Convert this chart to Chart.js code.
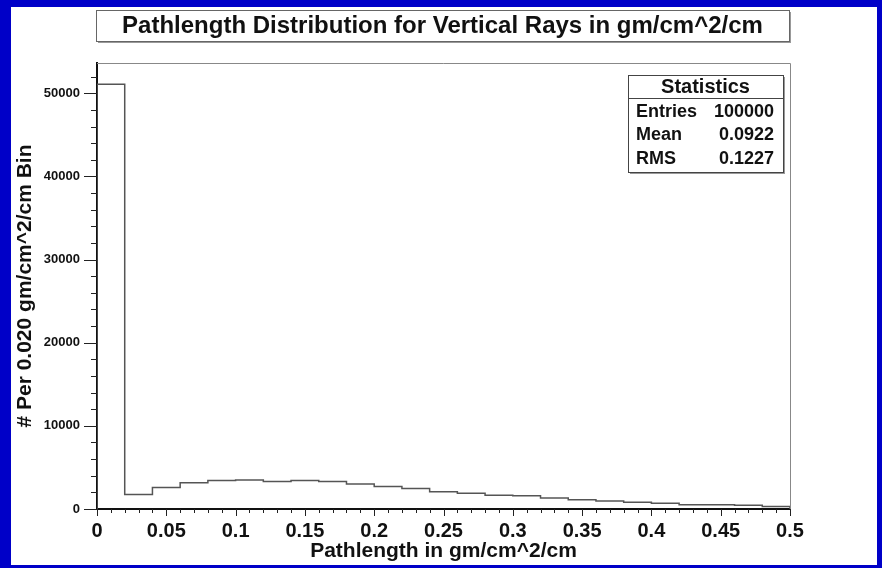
<!DOCTYPE html>
<html>
<head>
<meta charset="utf-8">
<script src="https://cdn.jsdelivr.net/npm/chart.js@4.4.1/dist/chart.umd.min.js"></script>
<style>
  html, body { margin: 0; padding: 0; background: #0000c8; width: 882px; height: 568px; overflow: hidden; }
  #panel { position: absolute; left: 11px; top: 7px; width: 866px; height: 558px; background: #fff; }
</style>
</head>
<body>
<div id="panel"><canvas id="histChart" width="866" height="558"></canvas></div>
<script>
// histogram bins (gm/cm^2/cm), 0.020 wide
const binEdges = [0, 0.02, 0.04, 0.06, 0.08, 0.10, 0.12, 0.14, 0.16, 0.18, 0.20, 0.22, 0.24,
                  0.26, 0.28, 0.30, 0.32, 0.34, 0.36, 0.38, 0.40, 0.42, 0.44, 0.46, 0.48, 0.50];
const counts = [51100, 1750, 2600, 3160, 3440, 3490, 3320, 3440, 3320, 3000, 2720, 2480, 2080,
                1880, 1660, 1600, 1320, 1120, 960, 820, 680, 520, 520, 440, 300];
const xTicks = [0, 0.05, 0.1, 0.15, 0.2, 0.25, 0.3, 0.35, 0.4, 0.45, 0.5];
const yTicks = [0, 10000, 20000, 30000, 40000, 50000];
const statLabels = ['Entries', 'Mean', 'RMS'];
const statValues = ['100000', '0.0922', '0.1227'];

const FONT = "'Liberation Sans', Arial, sans-serif";

// step points for the histogram outline
const points = [{ x: binEdges[0], y: 0 }];
counts.forEach((c, i) => points.push({ x: binEdges[i], y: c }));
points.push({ x: binEdges[binEdges.length - 1], y: counts[counts.length - 1] });
points.push({ x: binEdges[binEdges.length - 1], y: 0 });

// frame, tick marks, title box and stats box
const decor = {
    id: 'decor',
    afterDraw(chart) {
        const ctx = chart.ctx;
        const a = chart.chartArea;
        const xs = chart.scales.x, ys = chart.scales.y;
        ctx.save();

        // top / right frame lines
        ctx.strokeStyle = '#888';
        ctx.lineWidth = 1;
        ctx.beginPath();
        ctx.moveTo(a.left, a.top + 0.5);
        ctx.lineTo(a.right + 0.5, a.top + 0.5);
        ctx.lineTo(a.right + 0.5, a.bottom);
        ctx.stroke();

        // x ticks: minor every 0.01, major every 0.05
        ctx.strokeStyle = '#222';
        ctx.lineWidth = 1;
        for (let i = 0; i <= 50; i++) {
            const px = Math.round(xs.getPixelForValue(i / 100)) + 0.5;
            const len = i % 5 === 0 ? 7 : 4;
            ctx.beginPath();
            ctx.moveTo(px, a.bottom);
            ctx.lineTo(px, a.bottom + len);
            ctx.stroke();
        }
        // y ticks: minor every 2000, major every 10000
        for (let v = 0; v <= ys.max; v += 2000) {
            const py = Math.round(ys.getPixelForValue(v)) + 0.5;
            const len = v % 10000 === 0 ? 13 : 6;
            ctx.beginPath();
            ctx.moveTo(a.left - len, py);
            ctx.lineTo(a.left, py);
            ctx.stroke();
        }

        // title box
        const tb = { x: 85, y: 3, w: 693, h: 31 };
        ctx.fillStyle = '#999';
        ctx.fillRect(tb.x + 2, tb.y + 2, tb.w, tb.h);
        ctx.fillStyle = '#fff';
        ctx.fillRect(tb.x, tb.y, tb.w, tb.h);
        ctx.strokeStyle = '#666';
        ctx.strokeRect(tb.x + 0.5, tb.y + 0.5, tb.w, tb.h);
        ctx.fillStyle = '#111';
        ctx.font = 'bold 24px ' + FONT;
        ctx.textAlign = 'center';
        ctx.textBaseline = 'middle';
        ctx.fillText('Pathlength Distribution for Vertical Rays in gm/cm^2/cm', tb.x + tb.w / 2, tb.y + tb.h / 2 + 1);

        // statistics box
        const sb = { x: 617, y: 68, w: 155, h: 97 };
        ctx.fillStyle = '#999';
        ctx.fillRect(sb.x + 2, sb.y + 2, sb.w, sb.h);
        ctx.fillStyle = '#fff';
        ctx.fillRect(sb.x, sb.y, sb.w, sb.h);
        ctx.strokeStyle = '#444';
        ctx.strokeRect(sb.x + 0.5, sb.y + 0.5, sb.w, sb.h);
        ctx.beginPath();
        ctx.moveTo(sb.x, sb.y + 23.5);
        ctx.lineTo(sb.x + sb.w, sb.y + 23.5);
        ctx.stroke();
        ctx.fillStyle = '#111';
        ctx.font = 'bold 20px ' + FONT;
        ctx.textAlign = 'center';
        ctx.fillText('Statistics', sb.x + sb.w / 2, sb.y + 12);
        ctx.font = 'bold 18px ' + FONT;
        statLabels.forEach((lab, i) => {
            const ty = sb.y + 37 + i * 23.5;
            ctx.textAlign = 'left';
            ctx.fillText(lab, sb.x + 8, ty);
            ctx.textAlign = 'right';
            ctx.fillText(statValues[i], sb.x + sb.w - 9, ty);
        });
        ctx.restore();
    }
};

const ctx = document.getElementById('histChart').getContext('2d');
const histChart = new Chart(ctx, {
    type: 'line',
    data: {
        datasets: [{
            data: points,
            stepped: 'before',
            borderColor: '#555',
            borderWidth: 1.5,
            pointRadius: 0,
            fill: false
        }]
    },
    options: {
        responsive: false,
        animation: false,
        devicePixelRatio: 1,
        layout: { padding: { left: 0, top: 56, right: 87, bottom: 0 } },
        plugins: {
            legend: { display: false },
            tooltip: { enabled: false }
        },
        scales: {
            x: {
                type: 'linear',
                min: 0,
                max: 0.5,
                grid: { display: false, drawTicks: false },
                border: { display: true, color: '#111', width: 2 },
                afterBuildTicks: (scale) => { scale.ticks = xTicks.map(v => ({ value: v })); },
                afterFit: (scale) => { scale.height = 56; },
                ticks: {
                    padding: 10,
                    color: '#111',
                    font: { family: FONT, size: 20, weight: 'bold' },
                    maxRotation: 0,
                    callback: (v) => String(+v.toFixed(2))
                },
                title: {
                    display: true,
                    text: 'Pathlength in gm/cm^2/cm',
                    color: '#111',
                    font: { family: FONT, size: 21, weight: 'bold' },
                    padding: { top: 0, bottom: 1 }
                }
            },
            y: {
                min: 0,
                max: 53650,
                grid: { display: false, drawTicks: false },
                border: { display: true, color: '#111', width: 2 },
                afterBuildTicks: (scale) => { scale.ticks = yTicks.map(v => ({ value: v })); },
                afterFit: (scale) => { scale.width = 86; },
                ticks: {
                    padding: 17,
                    color: '#111',
                    font: { family: FONT, size: 13, weight: 'bold' },
                    callback: (v) => String(v)
                },
                title: {
                    display: true,
                    text: '# Per 0.020 gm/cm^2/cm Bin',
                    color: '#111',
                    font: { family: FONT, size: 21, weight: 'bold' },
                    padding: { top: 2, bottom: 0 }
                }
            }
        }
    },
    plugins: [decor]
});
</script>
</body>
</html>
